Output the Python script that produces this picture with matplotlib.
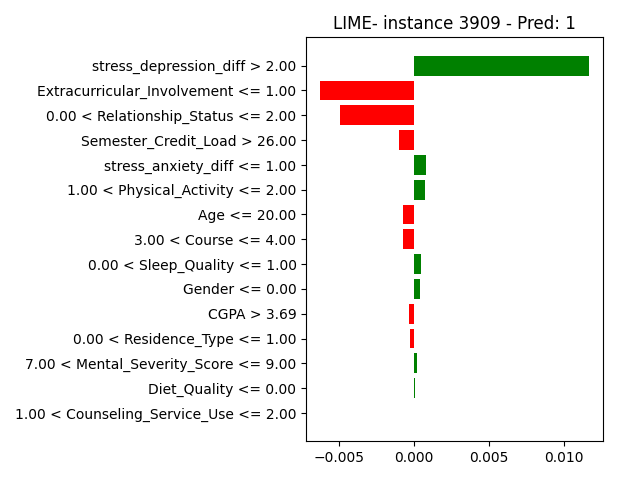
import matplotlib
matplotlib.use("Agg")
import matplotlib.pyplot as plt

features = [
    "stress_depression_diff > 2.00",
    "Extracurricular_Involvement <= 1.00",
    "0.00 < Relationship_Status <= 2.00",
    "Semester_Credit_Load > 26.00",
    "stress_anxiety_diff <= 1.00",
    "1.00 < Physical_Activity <= 2.00",
    "Age <= 20.00",
    "3.00 < Course <= 4.00",
    "0.00 < Sleep_Quality <= 1.00",
    "Gender <= 0.00",
    "CGPA > 3.69",
    "0.00 < Residence_Type <= 1.00",
    "7.00 < Mental_Severity_Score <= 9.00",
    "Diet_Quality <= 0.00",
    "1.00 < Counseling_Service_Use <= 2.00",
]
weights = [0.01168, -0.00631, -0.00497, -0.00101, 0.00081, 0.00074, -0.00074,
           -0.00074, 0.00047, 0.00040, -0.00034, -0.00027, 0.00017, 0.00003, 0.0]

vals = weights[::-1]
names = features[::-1]
colors = ["green" if v > 0 else "red" for v in vals]
pos = list(range(len(vals)))

fig = plt.figure(figsize=(6.4, 4.8), dpi=100)
plt.barh(pos, vals, align="center", color=colors)
plt.yticks(pos, names)
plt.title("LIME- instance 3909 - Pred: 1")
plt.tight_layout()
plt.savefig("out.png")
